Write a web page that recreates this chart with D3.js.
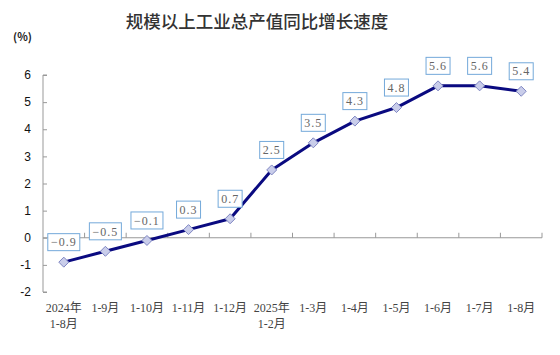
<!DOCTYPE html>
<html>
<head>
<meta charset="utf-8">
<script src="https://cdn.jsdelivr.net/npm/d3@7"></script>
<style>
  body { margin: 0; background: #fff; }
</style>
</head>
<body>
<div id="chart"></div>
<script>
// categories (two-line labels) and values
const periods = [
  ["2024年", "1-8月"], ["1-9月"], ["1-10月"], ["1-11月"], ["1-12月"],
  ["2025年", "1-2月"], ["1-3月"], ["1-4月"], ["1-5月"], ["1-6月"], ["1-7月"], ["1-8月"]
]
const growth = [-0.9, -0.5, -0.1, 0.3, 0.7, 2.5, 3.5, 4.3, 4.8, 5.6, 5.6, 5.4]
const yTicks = [-2, -1, 0, 1, 2, 3, 4, 5, 6]

const width = 560
const height = 355
const margin = {top: 75, right: 18, bottom: 63, left: 43}

const svg = d3.select("#chart")
  .append("svg")
    .attr("width", width)
    .attr("height", height)

const x = d3.scaleBand()
  .domain(d3.range(growth.length))
  .range([margin.left, width - margin.right])

const y = d3.scaleLinear()
  .domain([-2, 6])
  .range([height - margin.bottom, margin.top])

const serif = "'Liberation Serif', 'Noto Sans CJK SC', serif"
const sans = "'Noto Sans CJK SC', 'Noto Sans', sans-serif"

// title
svg.append("text")
  .attr("x", 257).attr("y", 28)
  .attr("text-anchor", "middle")
  .style("font-family", sans)
  .style("font-size", "17.5px")
  .style("font-weight", 500)
  .style("fill", "#333")
  .text("规模以上工业总产值同比增长速度")

svg.append("text")
  .attr("x", 13).attr("y", 41)
  .style("font-family", sans)
  .style("font-size", "11px")
  .style("font-weight", 700)
  .style("fill", "#222")
  .text("(%)")

// y axis, ticks pointing inward
const yAxis = svg.append("g")
  .attr("transform", `translate(${margin.left},0)`)
  .call(d3.axisRight(y).tickValues(yTicks).tickSize(4).tickFormat(""))
yAxis.select(".domain").attr("stroke", "#999").attr("d", `M4,${y(6)}H0V${y(-2)}H4`)
yAxis.selectAll(".tick line").attr("stroke", "#999")

svg.append("g")
  .selectAll("text")
  .data(yTicks)
  .join("text")
    .attr("x", 31)
    .attr("y", d => y(d))
    .attr("dy", "0.35em")
    .attr("text-anchor", "end")
    .style("font-family", "'Liberation Sans', Arial, sans-serif")
    .style("font-size", "12px")
    .style("fill", "#111")
    .text(d => d)

// x axis at zero, ticks between categories pointing up
const xAxis = svg.append("g")
  .attr("transform", `translate(0,${y(0)})`)
xAxis.append("line")
  .attr("x1", margin.left).attr("x2", width - margin.right)
  .attr("stroke", "#999")
xAxis.selectAll("line.tk")
  .data(d3.range(1, growth.length + 1))
  .join("line")
    .attr("class", "tk")
    .attr("x1", i => margin.left + i * x.step())
    .attr("x2", i => margin.left + i * x.step())
    .attr("y1", 0).attr("y2", -5)
    .attr("stroke", "#999")

// category labels
const lab = svg.append("g")
  .selectAll("text")
  .data(periods)
  .join("text")
    .attr("x", (d, i) => x(i) + x.bandwidth() / 2)
    .attr("y", 312)
    .attr("text-anchor", "middle")
    .style("font-family", serif)
    .style("font-size", "12px")
    .style("fill", "#444")
lab.selectAll("tspan")
  .data(d => d)
  .join("tspan")
    .attr("x", function() { return this.parentNode.getAttribute("x") })
    .attr("dy", (d, j) => j === 0 ? 0 : 16)
    .text(d => d)

// line
const cx = i => x(i) + x.bandwidth() / 2
const line = d3.line()
  .x((d, i) => cx(i))
  .y(d => y(d))

svg.append("path")
  .datum(growth)
  .attr("fill", "none")
  .attr("stroke", "#0a0a80")
  .attr("stroke-width", 3)
  .attr("stroke-linejoin", "round")
  .attr("d", line)

// diamond markers
svg.append("g")
  .selectAll("path")
  .data(growth)
  .join("path")
    .attr("transform", (d, i) => `translate(${cx(i)},${y(d)})`)
    .attr("d", "M0,-5L5,0L0,5L-5,0Z")
    .attr("fill", "#c9cdea")
    .attr("stroke", "#7f86c2")
    .attr("stroke-width", 1)

// value labels in boxes
const boxes = svg.append("g")
  .selectAll("g")
  .data(growth)
  .join("g")
    .attr("transform", (d, i) => `translate(${cx(i)},${y(d) - 20})`)

boxes.append("rect")
  .attr("x", d => d < 0 ? -16 : -12)
  .attr("y", -8.5)
  .attr("width", d => d < 0 ? 32 : 24)
  .attr("height", 17)
  .attr("fill", "#fff")
  .attr("stroke", "#74a9da")
  .attr("stroke-width", 1)

boxes.append("text")
  .attr("text-anchor", "middle")
  .attr("dy", "0.35em")
  .style("font-family", serif)
  .style("font-size", "12px")
  .style("letter-spacing", "1px")
  .style("fill", "#666")
  .text(d => d < 0 ? "\u2212" + Math.abs(d).toFixed(1) : d.toFixed(1))
</script>
</body>
</html>
